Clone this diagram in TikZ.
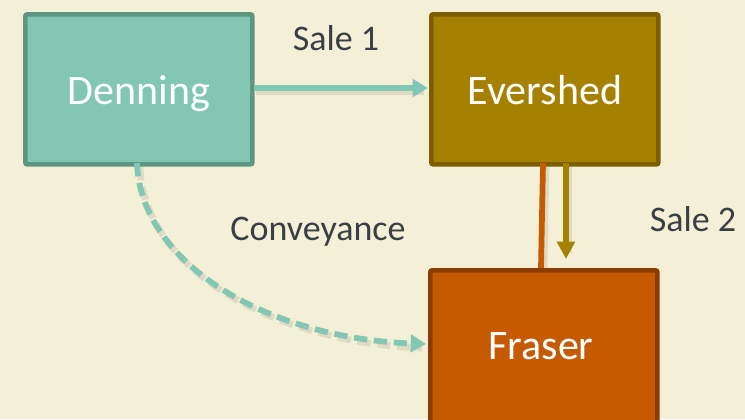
\documentclass[tikz,border=0pt]{standalone}
\usepackage{fontspec}
\setmainfont{Carlito}
\usetikzlibrary{arrows.meta,calc}
\definecolor{bg}{HTML}{F4F0D7}
\definecolor{tealf}{HTML}{82C6B4}
\definecolor{teald}{HTML}{5E9583}
\definecolor{goldf}{HTML}{A68000}
\definecolor{goldd}{HTML}{7A5E00}
\definecolor{rustf}{HTML}{C55A00}
\definecolor{rustd}{HTML}{8C3C00}
\definecolor{txt}{HTML}{3A3F45}
\tikzset{
  boxtext/.style={text=white, font=\fontsize{31.5pt}{36pt}\selectfont, text height=24pt, text depth=2pt, inner sep=0pt},
  box/.style={draw, line width=3.5pt, rounded corners=1.5pt, minimum width=170.25pt, minimum height=112.5pt, boxtext, anchor=north west},
  lbl/.style={text=txt, font=\fontsize{27pt}{32pt}\selectfont, inner sep=0pt},
  conn/.style={line width=4.3pt},
  shd/.style={line width=5pt, draw=black!70, opacity=0.13},
}
\begin{document}
\begin{tikzpicture}[x=0.75pt,y=-0.75pt]
\useasboundingbox (0,0) rectangle (745,419);
\clip (0,0) rectangle (745,419);
\fill[bg] (0,0) rectangle (745,419);
\node[box, fill=tealf, draw=teald] (den) at (23,12) {Denning};
\node[box, fill=goldf, draw=goldd] (eve) at (429,12) {Evershed};
\node[box, fill=rustf, draw=rustd, minimum height=120pt] (fra) at (428,268) {};
\node[boxtext] (fratxt) at (541,345) {Fraser};
% labels
\node[lbl] (s1) at (336,38) {Sale 1};
\node[lbl] (s2) at (693,219) {Sale 2};
\node[lbl] (conv) at (318,232) {Conveyance};
% coordinates
\coordinate (r1) at (543,163);
\coordinate (r2) at (541,268);
\coordinate (g1) at (566,163);
\coordinate (g2) at (566,259);
\coordinate (d1) at (137,163);
\coordinate (f1) at (426,344);
\coordinate (e1) at (254,88);
\coordinate (e2) at (428,88);
% shadows
\draw[shd] ([shift={(2,4)}]e1) -- ([shift={(-4,4)}]e2);
\draw[shd] ([shift={(3,3)}]r1) -- ([shift={(3,0)}]r2);
\draw[shd] ([shift={(3,3)}]g1) -- ([shift={(3,-6)}]g2);
\draw[shd, dash pattern=on 10pt off 5pt] ([shift={(3,4)}]d1) .. controls (143,266) and (268,342) .. ([shift={(-4,4)}]f1);
% connectors
\draw[conn, draw=tealf, -{Triangle[length=11.5pt,width=13pt]}] (e1) -- (e2);
\draw[conn, draw=rustf] (r1) -- (r2);
\draw[conn, draw=goldf, -{Triangle[length=13pt,width=13pt]}] (g1) -- (g2);
\draw[conn, draw=tealf, dash pattern=on 10pt off 5pt, -{Triangle[length=11.5pt,width=13pt]}] (d1) .. controls (140,262) and (265,338) .. (f1);
\end{tikzpicture}
\end{document}
